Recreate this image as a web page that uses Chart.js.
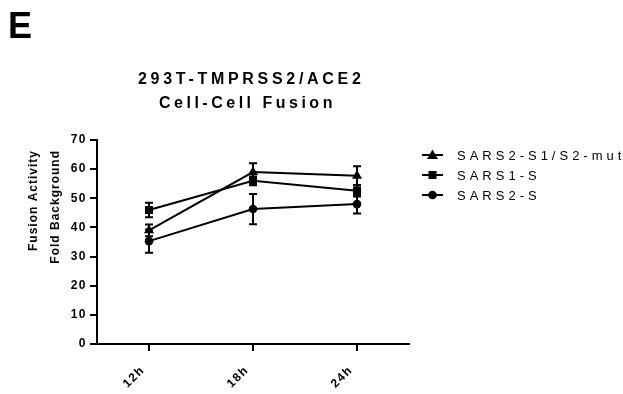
<!DOCTYPE html>
<html>
<head>
<meta charset="utf-8">
<script src="https://cdn.jsdelivr.net/npm/chart.js@4/dist/chart.umd.min.js"></script>
<style>
  html, body { margin: 0; padding: 0; background: #fff; }
  #wrap { width: 623px; height: 394px; }
</style>
</head>
<body>
<div id="wrap"><canvas id="chartContainer" width="623" height="394"></canvas></div>
<script>
"use strict";

// 1: data
const timeLabels = ['12h', '18h', '24h'];
const seriesNames = ['SARS2-S1/S2-mut', 'SARS1-S', 'SARS2-S'];
const mutMean = [39.0, 59.0, 57.7];
const mutErr = [2.0, 3.0, 3.3];
const sars1Mean = [46.0, 56.0, 52.6];
const sars1Err = [2.5, 1.5, 2.0];
const sars2Mean = [35.3, 46.3, 48.0];
const sars2Err = [4.0, 5.2, 3.2];
const yMin = 0;
const yMax = 70;
const yStep = 10;

const FONT = "'Liberation Sans', Arial, sans-serif";
Chart.defaults.font.family = FONT;
Chart.defaults.color = '#000';

// 2: error bars drawn through the y scale
const errorBars = {
  id: 'errorBars',
  afterDatasetsDraw(chart) {
    const ctx = chart.ctx;
    const yScale = chart.scales.y;
    ctx.save();
    ctx.strokeStyle = '#000';
    ctx.lineWidth = 2;
    chart.data.datasets.forEach((ds, i) => {
      const meta = chart.getDatasetMeta(i);
      meta.data.forEach((pt, j) => {
        const v = ds.data[j];
        const e = ds.errors[j];
        const top = yScale.getPixelForValue(v + e);
        const bot = yScale.getPixelForValue(v - e);
        ctx.beginPath();
        ctx.moveTo(pt.x, top);
        ctx.lineTo(pt.x, bot);
        ctx.moveTo(pt.x - 4, top);
        ctx.lineTo(pt.x + 4, top);
        ctx.moveTo(pt.x - 4, bot);
        ctx.lineTo(pt.x + 4, bot);
        ctx.stroke();
      });
    });
    ctx.restore();
  }
};

// 3: spaced text (panel letter, titles, legend)
function spacedText(ctx, text, x, y, font, spacing) {
  ctx.font = font;
  ctx.letterSpacing = spacing + 'px';
  ctx.fillText(text, x, y);
}

function drawMarker(ctx, style, x, y) {
  ctx.beginPath();
  if (style === 'triangle') {
    ctx.moveTo(x, y - 5.5);
    ctx.lineTo(x + 5.5, y + 4);
    ctx.lineTo(x - 5.5, y + 4);
    ctx.closePath();
  } else if (style === 'rect') {
    ctx.rect(x - 4, y - 4, 8, 8);
  } else {
    ctx.arc(x, y, 4.3, 0, Math.PI * 2);
  }
  ctx.fill();
}

const decorations = {
  id: 'decorations',
  beforeDraw(chart) {
    chart.ctx.letterSpacing = '1.5px';
  },
  afterDraw(chart) {
    const ctx = chart.ctx;
    ctx.save();
    ctx.fillStyle = '#000';
    ctx.textBaseline = 'alphabetic';
    ctx.textAlign = 'left';
    spacedText(ctx, 'E', 8, 38, 'bold 36px ' + FONT, 0);
    spacedText(ctx, '293T-TMPRSS2/ACE2', 138, 84, 'bold 16px ' + FONT, 3.7);
    spacedText(ctx, 'Cell-Cell Fusion', 159, 108, 'bold 16px ' + FONT, 3.5);

    // y axis title, two lines, end-aligned near the top
    ctx.save();
    ctx.textBaseline = 'middle';
    ctx.textAlign = 'right';
    ctx.translate(34, 150);
    ctx.rotate(-Math.PI / 2);
    spacedText(ctx, 'Fusion Activity', 0, 0, 'bold 12px ' + FONT, 1);
    ctx.restore();
    ctx.save();
    ctx.textBaseline = 'middle';
    ctx.textAlign = 'right';
    ctx.translate(56, 150);
    ctx.rotate(-Math.PI / 2);
    spacedText(ctx, 'Fold Background', 0, 0, 'bold 12px ' + FONT, 1);
    ctx.restore();

    // legend
    ctx.textBaseline = 'middle';
    chart.data.datasets.forEach((ds, i) => {
      const y = 155 + i * 20;
      ctx.strokeStyle = '#000';
      ctx.lineWidth = 2;
      ctx.beginPath();
      ctx.moveTo(422, y);
      ctx.lineTo(443, y);
      ctx.stroke();
      drawMarker(ctx, ds.pointStyle, 432.5, y);
      spacedText(ctx, ds.label, 457, y + 1, '13px ' + FONT, 4);
    });
    ctx.restore();
  }
};

// 4: chart
function makeSet(label, values, errors, style, radius) {
  return {
    label: label,
    data: values,
    errors: errors,
    borderColor: '#000',
    backgroundColor: '#000',
    borderWidth: 2,
    pointStyle: style,
    pointRadius: radius,
    pointBackgroundColor: '#000',
    pointBorderColor: '#000',
    pointBorderWidth: 0,
    tension: 0,
    fill: false
  };
}

const axisGrid = {
  drawOnChartArea: false,
  color: '#000',
  lineWidth: 2,
  tickLength: 7,
  offset: false
};

new Chart(document.getElementById('chartContainer'), {
  type: 'line',
  data: {
    labels: timeLabels,
    datasets: [
      makeSet(seriesNames[0], mutMean, mutErr, 'triangle', 5.8),
      makeSet(seriesNames[1], sars1Mean, sars1Err, 'rect', 5.7),
      makeSet(seriesNames[2], sars2Mean, sars2Err, 'circle', 4.3)
    ]
  },
  options: {
    responsive: false,
    devicePixelRatio: 1,
    animation: false,
    layout: { padding: { left: 0, top: 140, right: 214, bottom: 0 } },
    plugins: {
      legend: { display: false },
      title: { display: false },
      tooltip: { enabled: false }
    },
    scales: {
      x: {
        type: 'category',
        offset: true,
        grid: axisGrid,
        border: { color: '#000', width: 2 },
        ticks: {
          minRotation: 45,
          maxRotation: 45,
          color: '#000',
          padding: 12,
          labelOffset: -6,
          font: { size: 12, weight: 'bold' }
        },
        afterFit(s) { s.height = 50; }
      },
      y: {
        min: yMin,
        max: yMax,
        grid: axisGrid,
        border: { color: '#000', width: 2 },
        ticks: {
          stepSize: yStep,
          color: '#000',
          padding: 3,
          font: { size: 12, weight: 'bold' }
        },
        afterFit(s) { s.width = 97; }
      }
    }
  },
  plugins: [errorBars, decorations]
});
</script>
</body>
</html>
